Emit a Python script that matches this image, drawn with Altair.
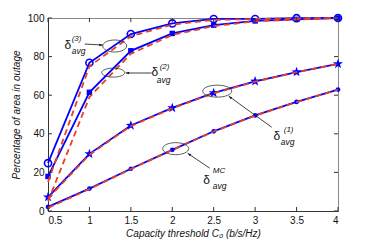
import math
import altair as alt
import pandas as pd

# ---------------- data ----------------
x_vals = [0.5, 1, 1.5, 2, 2.5, 3, 3.5, 4]

blue_d3 = [24.8, 76.8, 91.7, 97.2, 99.5, 99.5, 99.9, 100]
blue_d2 = [17.9, 61.5, 83.0, 92.0, 96.3, 98.5, 99.3, 100]
blue_d1 = [7.2, 29.6, 44.3, 53.4, 61.2, 67.2, 72.0, 76.2]
blue_mc = [2.1, 11.6, 21.9, 31.7, 41.3, 49.5, 56.5, 62.9]

red_d3 = [15.0, 75.0, 90.5, 96.6, 99.0, 99.5, 99.8, 100]
red_d2 = [5.0, 59.0, 81.5, 91.2, 95.8, 98.3, 99.2, 100]
red_d1 = [6.5, 29.2, 44.0, 53.2, 61.0, 67.0, 71.9, 76.2]
red_mc = [1.6, 11.4, 21.7, 31.6, 41.2, 49.4, 56.4, 62.9]

x_ticks = [0.5, 1, 1.5, 2, 2.5, 3, 3.5, 4]
y_ticks = [0, 20, 40, 60, 80, 100]

# annotation anchors (data units)
ell_x = [1.305, 1.287, 2.542, 2.041]
ell_y = [85.5, 71.7, 62.1, 32.3]
ell_rx = [12, 11.5, 14.5, 13]
ell_ry = [6, 4.5, 6, 6]

arr_x0 = [0.943, 1.751, 3.200, 2.451]
arr_y0 = [86.5, 71.5, 43.4, 22.2]
arr_x1 = [1.160, 1.438, 2.681, 2.186]
arr_y1 = [86.0, 71.5, 59.5, 29.9]
arr_ang = [0, 180, 216, 214]

lab_x = [0.738, 1.788, 3.261, 2.415]
lab_y = [86.0, 72.0, 38.8, 15.9]
sup_txt = ["(3)", "(2)", "(1)", "MC"]
sup_x = [0.786, 1.848, 3.345, 2.488]
sup_y = [89.1, 74.6, 41.9, 20.6]
sub_x = [0.786, 1.812, 3.309, 2.488]
sub_y = [82.9, 67.8, 35.7, 12.8]

# ---------------- styling ----------------
BLUE = "#0000ff"
RED = "#e8411e"
FONT = "Liberation Sans"
W, H = 290, 193
XT = "Capacity threshold C₀ (b/s/Hz)"
YT = "Percentage of area in outage"

xs = alt.Scale(domain=[0.5, 4], nice=False, zero=False)
ys = alt.Scale(domain=[0, 100], nice=False, zero=False)
xax = alt.Axis(values=x_ticks, format="~g", ticks=False, grid=False,
               domainColor="#333", labelPadding=4, titlePadding=3)
yax = alt.Axis(values=y_ticks, ticks=False, grid=False,
               domainColor="#333", labelPadding=4, titlePadding=6)


def X(f, **kw):
    return alt.X(f, scale=xs, axis=xax, title=XT, **kw)


def Y(f, **kw):
    return alt.Y(f, scale=ys, axis=yax, title=YT, **kw)


def long_df(series):
    rows = []
    for name, vals in series.items():
        for xv, yv in zip(x_vals, vals):
            rows.append({"series": name, "x": xv, "y": yv})
    return pd.DataFrame(rows)


blue_df = long_df({"d3": blue_d3, "d2": blue_d2, "d1": blue_d1, "mc": blue_mc})
red_df = long_df({"d3": red_d3, "d2": red_d2, "d1": red_d1, "mc": red_mc})

blue_lines = alt.Chart(blue_df).mark_line(color=BLUE, strokeWidth=1.8).encode(
    x=X("x:Q"), y=Y("y:Q"), detail="series:N")

# star path
pts = []
for k in range(10):
    r = 1.0 if k % 2 == 0 else 0.4
    a = math.radians(-90 + 36 * k)
    pts.append(f"{r*math.cos(a):.3f},{r*math.sin(a):.3f}")
STAR = "M" + " L".join(pts) + " Z"


def markers(name, **kw):
    d = blue_df[blue_df.series == name]
    return alt.Chart(d).mark_point(color=BLUE, opacity=1, **kw).encode(x=X("x:Q"), y=Y("y:Q"))


m_d3 = markers("d3", shape="circle", filled=False, size=50, strokeWidth=1.6)
m_d2 = markers("d2", shape="square", filled=True, size=30)
m_d1 = markers("d1", shape=STAR, filled=True, size=110)
m_mc = markers("mc", shape="circle", filled=True, size=22)

red_lines = alt.Chart(red_df).mark_line(color=RED, strokeWidth=1.8, strokeDash=[6, 4]).encode(
    x=X("x:Q"), y=Y("y:Q"), detail="series:N")

# inward ticks (MATLAB style) on all four sides
xt = pd.DataFrame({"v": x_ticks})
yt = pd.DataFrame({"v": y_ticks})
TK = "#333"
ticks = [
    alt.Chart(xt).mark_rule(color=TK, strokeWidth=1).encode(
        x=X("v:Q"), y=alt.value(H), y2=alt.value(H - 4)),
    alt.Chart(xt).mark_rule(color=TK, strokeWidth=1).encode(
        x=X("v:Q"), y=alt.value(0), y2=alt.value(4)),
    alt.Chart(yt).mark_rule(color=TK, strokeWidth=1).encode(
        y=Y("v:Q"), x=alt.value(0), x2=alt.value(4)),
    alt.Chart(yt).mark_rule(color=TK, strokeWidth=1).encode(
        y=Y("v:Q"), x=alt.value(W), x2=alt.value(W - 4)),
]

# ellipses
ann = []
k = 0.5523
for i in range(4):
    q = ell_ry[i] / ell_rx[i]
    path = (f"M1,0 C1,{q*k:.3f} {k},{q:.3f} 0,{q:.3f} C{-k},{q:.3f} -1,{q*k:.3f} -1,0 "
            f"C-1,{-q*k:.3f} {-k},{-q:.3f} 0,{-q:.3f} C{k},{-q:.3f} 1,{-q*k:.3f} 1,0 Z")
    d = pd.DataFrame({"x": [ell_x[i]], "y": [ell_y[i]]})
    ann.append(alt.Chart(d).mark_point(shape=path, filled=False, color="#333",
                                       strokeWidth=0.8, opacity=1,
                                       size=(2 * ell_rx[i]) ** 2).encode(
        x=X("x:Q"), y=Y("y:Q")))

arr_df = pd.DataFrame({"x0": arr_x0, "y0": arr_y0, "x1": arr_x1, "y1": arr_y1, "ang": arr_ang})
ann.append(alt.Chart(arr_df).mark_rule(color="#111", strokeWidth=0.8).encode(
    x=X("x0:Q"), y=Y("y0:Q"), x2="x1:Q", y2="y1:Q"))
ann.append(alt.Chart(arr_df).mark_point(shape="M0,0 L-2,-0.7 L-2,0.7 Z", filled=True,
                                        color="#111", opacity=1, size=12).encode(
    x=X("x1:Q"), y=Y("y1:Q"), angle=alt.Angle("ang:Q", scale=None)))

lab_df = pd.DataFrame({"x": lab_x, "y": lab_y, "t": ["δ"] * 4})
sup_df = pd.DataFrame({"x": sup_x, "y": sup_y, "t": sup_txt})
sub_df = pd.DataFrame({"x": sub_x, "y": sub_y, "t": ["avg"] * 4})
ann.append(alt.Chart(lab_df).mark_text(font=FONT, fontSize=12, color="#111",
                                       align="center", baseline="middle").encode(
    x=X("x:Q"), y=Y("y:Q"), text="t:N"))
ann.append(alt.Chart(sup_df).mark_text(font=FONT, fontSize=8, fontStyle="italic", color="#111",
                                       align="left", baseline="middle").encode(
    x=X("x:Q"), y=Y("y:Q"), text="t:N"))
ann.append(alt.Chart(sub_df).mark_text(font=FONT, fontSize=8.5, fontStyle="italic", color="#111",
                                       align="left", baseline="middle").encode(
    x=X("x:Q"), y=Y("y:Q"), text="t:N"))

chart = alt.layer(blue_lines, m_d3, m_d2, m_d1, m_mc, red_lines, *ticks, *ann).properties(
    width=W, height=H,
    autosize=alt.AutoSizeParams(type="none"),
    padding={"left": 40, "top": 10, "right": 20, "bottom": 28},
).configure_view(stroke="#888", strokeWidth=1).configure_axis(
    labelFont=FONT, labelFontSize=10, labelColor="#111",
    titleFont=FONT, titleFontSize=10, titleFontStyle="italic", titleFontWeight="normal",
    titleColor="#111",
)

chart.save("out.html", embed_options={"renderer": "svg", "actions": False})
